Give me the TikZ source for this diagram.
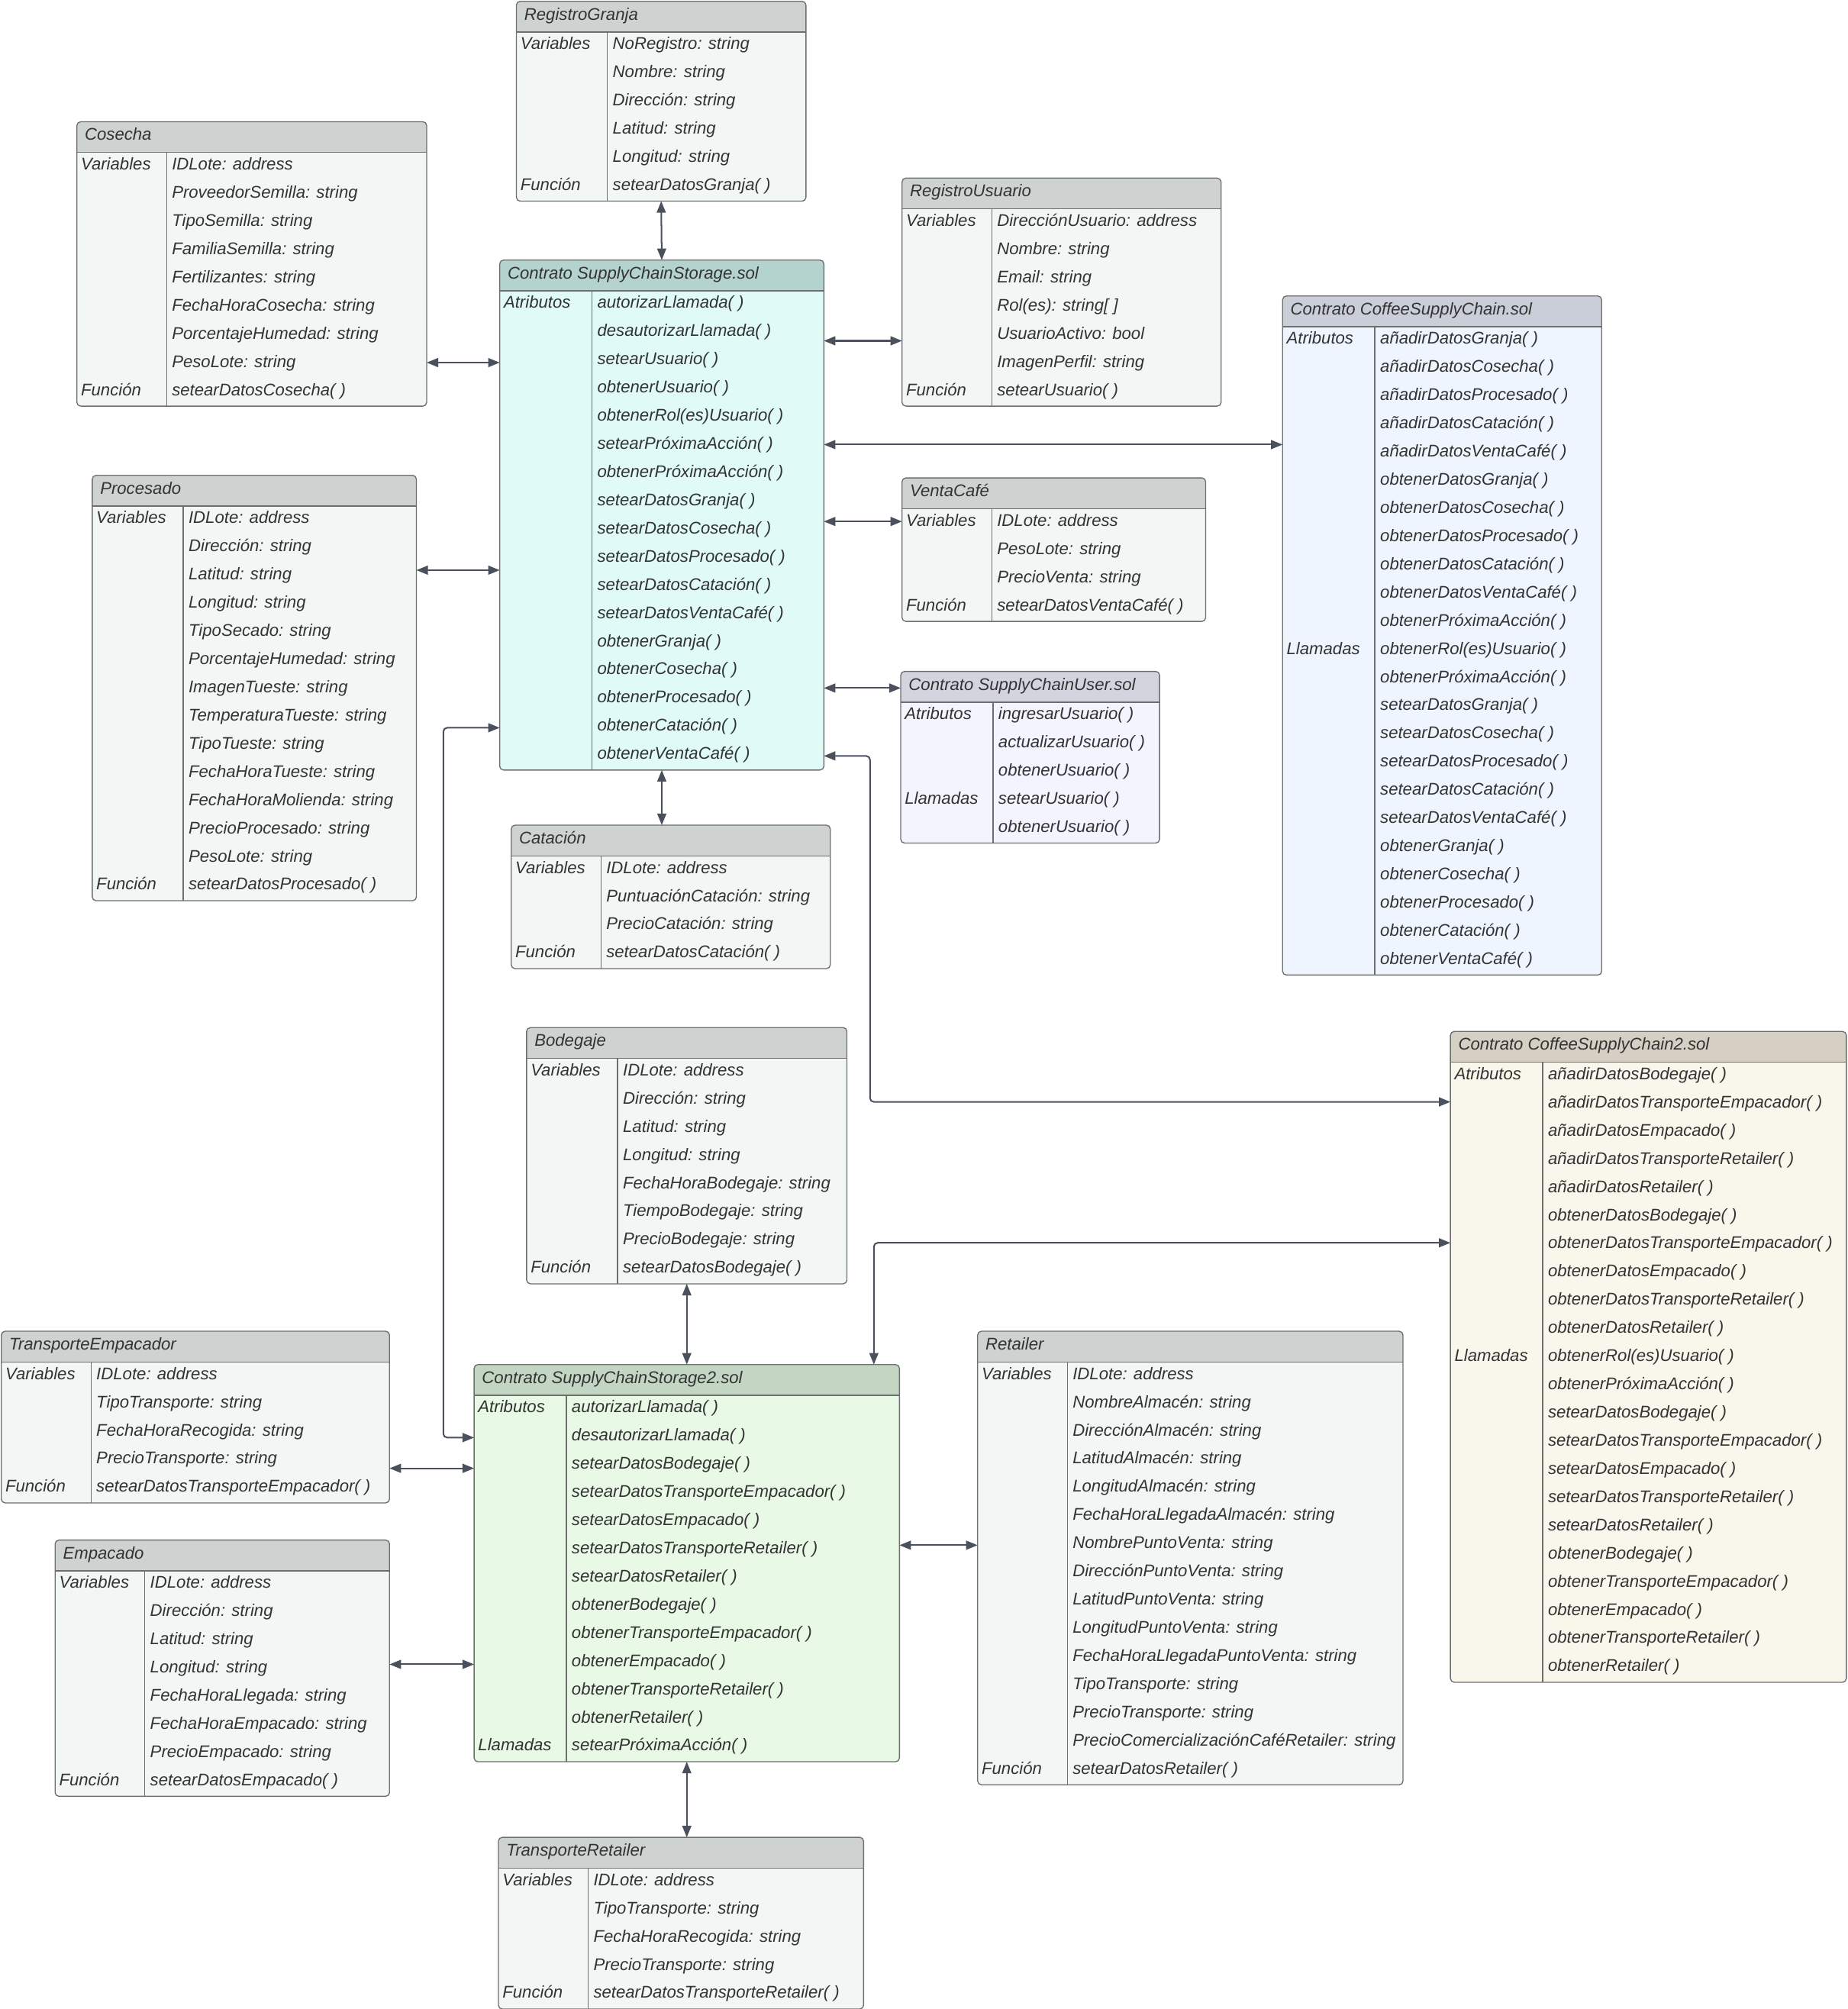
\documentclass[tikz,border=0pt]{standalone}
\usepackage{fontspec}
\setmainfont{Liberation Sans}
\usepackage{xcolor}
\usetikzlibrary{arrows.meta,calc}
\definecolor{inkgray}{HTML}{333333}
\definecolor{framegray}{HTML}{6E6E6E}
\definecolor{linkgray}{HTML}{4A505C}
\definecolor{headplain}{HTML}{CED3D1}
\definecolor{bodyplain}{HTML}{F2F7F6}
\definecolor{headstore}{HTML}{B5D3CE}
\definecolor{bodystore}{HTML}{E0FBF7}
\definecolor{headchain}{HTML}{C9CED8}
\definecolor{bodychain}{HTML}{EEF5FE}
\definecolor{headuser}{HTML}{D4D4DF}
\definecolor{bodyuser}{HTML}{F4F4FE}
\definecolor{headchaintwo}{HTML}{D5D0C3}
\definecolor{bodychaintwo}{HTML}{F9F6EC}
\definecolor{headstoretwo}{HTML}{C3D6C3}
\definecolor{bodystoretwo}{HTML}{E8F9E6}

% #1 name, #2 corner, #3 width, #4 column, #5 rows, #6 head, #7 body, #8 title, #9 rows text
\newcommand{\classbox}[9]{%
  \node[classframe, fill=#7, minimum width=#3pt, minimum height=24pt+22pt*#5] (#1) at (#2) {};
  \fill[#6, rounded corners=3pt] (#1.north west) rectangle ($(#1.north east)+(0,24)$);
  \fill[#6] ($(#1.north west)+(0,12)$) rectangle ($(#1.north east)+(0,24)$);
  \draw[frameline, rounded corners=3pt] (#1.north west) rectangle (#1.south east);
  \draw[frameline] ($(#1.north west)+(0,24)$) -- ($(#1.north east)+(0,24)$);
  \draw[frameline] ($(#1.north west)+(#4,24)$) -- ($(#1.south west)+(#4,0)$);
  \node[celltext] (#1-title) at ($(#1.north west)+(6,14.6)$) {#8};
  \foreach \txt [count=\i] in {#9}
    \node[celltext] (#1-\i) at ($(#1.north west)+(#4+4,15.6+22*\i)$) {\txt};
}
\newcommand{\classlabel}[3]{%
  \node[celltext] at ($(#1.north west)+(3,15.6+22*#2)$) {#3};
}

\begin{document}
\begin{tikzpicture}[
    x=1pt, y=-1pt,
    classframe/.style={
      rectangle,
      anchor=north west,
      rounded corners=3pt,
      inner sep=0pt,
      outer sep=0pt
    },
    frameline/.style={draw=framegray, line width=0.8pt},
    celltext/.style={
      anchor=base west,
      inner sep=0pt,
      text=inkgray,
      font=\fontsize{13.2}{15}\selectfont\itshape
    },
    link/.style={
      {Triangle[length=9pt, width=7pt]}-{Triangle[length=9pt, width=7pt]},
      draw=linkgray, line width=1.2pt, rounded corners=3pt
    }
  ]
  \useasboundingbox (0,0) rectangle (1442,1568);

  \classbox{rg}{403,1}{226}{71}{6}{headplain}{bodyplain}{RegistroGranja}
    {{NoRegistro: string}, {Nombre: string}, {Dirección: string}, {Latitud: string},
     {Longitud: string}, {setearDatosGranja( )}}
  \classlabel{rg}{1}{Variables}
  \classlabel{rg}{6}{Función}

  \classbox{cos}{60,95}{273}{70}{9}{headplain}{bodyplain}{Cosecha}
    {{IDLote: address}, {ProveedorSemilla: string}, {TipoSemilla: string},
     {FamiliaSemilla: string}, {Fertilizantes: string}, {FechaHoraCosecha: string},
     {PorcentajeHumedad: string}, {PesoLote: string}, {setearDatosCosecha( )}}
  \classlabel{cos}{1}{Variables}
  \classlabel{cos}{9}{Función}

  \classbox{scs}{390,203}{253}{72}{17}{headstore}{bodystore}{Contrato SupplyChainStorage.sol}
    {{autorizarLlamada( )}, {desautorizarLlamada( )}, {setearUsuario( )}, {obtenerUsuario( )},
     {obtenerRol(es)Usuario( )}, {setearPróximaAcción( )}, {obtenerPróximaAcción( )},
     {setearDatosGranja( )}, {setearDatosCosecha( )}, {setearDatosProcesado( )},
     {setearDatosCatación( )}, {setearDatosVentaCafé( )}, {obtenerGranja( )},
     {obtenerCosecha( )}, {obtenerProcesado( )}, {obtenerCatación( )}, {obtenerVentaCafé( )}}
  \classlabel{scs}{1}{Atributos}

  \classbox{ru}{704,139}{249}{70}{7}{headplain}{bodyplain}{RegistroUsuario}
    {{DirecciónUsuario: address}, {Nombre: string}, {Email: string}, {Rol(es): string[ ]},
     {UsuarioActivo: bool}, {ImagenPerfil: string}, {setearUsuario( )}}
  \classlabel{ru}{1}{Variables}
  \classlabel{ru}{7}{Función}

  \classbox{csc}{1001,231}{249}{72}{23}{headchain}{bodychain}{Contrato CoffeeSupplyChain.sol}
    {{añadirDatosGranja( )}, {añadirDatosCosecha( )}, {añadirDatosProcesado( )},
     {añadirDatosCatación( )}, {añadirDatosVentaCafé( )}, {obtenerDatosGranja( )},
     {obtenerDatosCosecha( )}, {obtenerDatosProcesado( )}, {obtenerDatosCatación( )},
     {obtenerDatosVentaCafé( )}, {obtenerPróximaAcción( )}, {obtenerRol(es)Usuario( )},
     {obtenerPróximaAcción( )}, {setearDatosGranja( )}, {setearDatosCosecha( )},
     {setearDatosProcesado( )}, {setearDatosCatación( )}, {setearDatosVentaCafé( )},
     {obtenerGranja( )}, {obtenerCosecha( )}, {obtenerProcesado( )}, {obtenerCatación( )},
     {obtenerVentaCafé( )}}
  \classlabel{csc}{1}{Atributos}
  \classlabel{csc}{12}{Llamadas}

  \classbox{pro}{72,371}{253}{71}{14}{headplain}{bodyplain}{Procesado}
    {{IDLote: address}, {Dirección: string}, {Latitud: string}, {Longitud: string},
     {TipoSecado: string}, {PorcentajeHumedad: string}, {ImagenTueste: string},
     {TemperaturaTueste: string}, {TipoTueste: string}, {FechaHoraTueste: string},
     {FechaHoraMolienda: string}, {PrecioProcesado: string}, {PesoLote: string},
     {setearDatosProcesado( )}}
  \classlabel{pro}{1}{Variables}
  \classlabel{pro}{14}{Función}

  \classbox{vc}{704,373}{237}{70}{4}{headplain}{bodyplain}{VentaCafé}
    {{IDLote: address}, {PesoLote: string}, {PrecioVenta: string}, {setearDatosVentaCafé( )}}
  \classlabel{vc}{1}{Variables}
  \classlabel{vc}{4}{Función}

  \classbox{scu}{703,524}{202}{72}{5}{headuser}{bodyuser}{Contrato SupplyChainUser.sol}
    {{ingresarUsuario( )}, {actualizarUsuario( )}, {obtenerUsuario( )}, {setearUsuario( )},
     {obtenerUsuario( )}}
  \classlabel{scu}{1}{Atributos}
  \classlabel{scu}{4}{Llamadas}

  \classbox{cat}{399,644}{249}{70}{4}{headplain}{bodyplain}{Catación}
    {{IDLote: address}, {PuntuaciónCatación: string}, {PrecioCatación: string},
     {setearDatosCatación( )}}
  \classlabel{cat}{1}{Variables}
  \classlabel{cat}{4}{Función}

  \classbox{bod}{411,802}{250}{71}{8}{headplain}{bodyplain}{Bodegaje}
    {{IDLote: address}, {Dirección: string}, {Latitud: string}, {Longitud: string},
     {FechaHoraBodegaje: string}, {TiempoBodegaje: string}, {PrecioBodegaje: string},
     {setearDatosBodegaje( )}}
  \classlabel{bod}{1}{Variables}
  \classlabel{bod}{8}{Función}

  \classbox{csc2}{1132,805}{309}{72}{22}{headchaintwo}{bodychaintwo}{Contrato CoffeeSupplyChain2.sol}
    {{añadirDatosBodegaje( )}, {añadirDatosTransporteEmpacador( )}, {añadirDatosEmpacado( )},
     {añadirDatosTransporteRetailer( )}, {añadirDatosRetailer( )}, {obtenerDatosBodegaje( )},
     {obtenerDatosTransporteEmpacador( )}, {obtenerDatosEmpacado( )},
     {obtenerDatosTransporteRetailer( )}, {obtenerDatosRetailer( )}, {obtenerRol(es)Usuario( )},
     {obtenerPróximaAcción( )}, {setearDatosBodegaje( )}, {setearDatosTransporteEmpacador( )},
     {setearDatosEmpacado( )}, {setearDatosTransporteRetailer( )}, {setearDatosRetailer( )},
     {obtenerBodegaje( )}, {obtenerTransporteEmpacador( )}, {obtenerEmpacado( )},
     {obtenerTransporteRetailer( )}, {obtenerRetailer( )}}
  \classlabel{csc2}{1}{Atributos}
  \classlabel{csc2}{11}{Llamadas}

  \classbox{te}{1,1039}{303}{70}{5}{headplain}{bodyplain}{TransporteEmpacador}
    {{IDLote: address}, {TipoTransporte: string}, {FechaHoraRecogida: string},
     {PrecioTransporte: string}, {setearDatosTransporteEmpacador( )}}
  \classlabel{te}{1}{Variables}
  \classlabel{te}{5}{Función}

  \classbox{scs2}{370,1065}{332}{72}{13}{headstoretwo}{bodystoretwo}{Contrato SupplyChainStorage2.sol}
    {{autorizarLlamada( )}, {desautorizarLlamada( )}, {setearDatosBodegaje( )},
     {setearDatosTransporteEmpacador( )}, {setearDatosEmpacado( )},
     {setearDatosTransporteRetailer( )}, {setearDatosRetailer( )}, {obtenerBodegaje( )},
     {obtenerTransporteEmpacador( )}, {obtenerEmpacado( )}, {obtenerTransporteRetailer( )},
     {obtenerRetailer( )}, {setearPróximaAcción( )}}
  \classlabel{scs2}{1}{Atributos}
  \classlabel{scs2}{13}{Llamadas}

  \classbox{ret}{763,1039}{332}{70}{15}{headplain}{bodyplain}{Retailer}
    {{IDLote: address}, {NombreAlmacén: string}, {DirecciónAlmacén: string},
     {LatitudAlmacén: string}, {LongitudAlmacén: string}, {FechaHoraLlegadaAlmacén: string},
     {NombrePuntoVenta: string}, {DirecciónPuntoVenta: string}, {LatitudPuntoVenta: string},
     {LongitudPuntoVenta: string}, {FechaHoraLlegadaPuntoVenta: string},
     {TipoTransporte: string}, {PrecioTransporte: string},
     {PrecioComercializaciónCaféRetailer: string}, {setearDatosRetailer( )}}
  \classlabel{ret}{1}{Variables}
  \classlabel{ret}{15}{Función}

  \classbox{emp}{43,1202}{261}{70}{8}{headplain}{bodyplain}{Empacado}
    {{IDLote: address}, {Dirección: string}, {Latitud: string}, {Longitud: string},
     {FechaHoraLlegada: string}, {FechaHoraEmpacado: string}, {PrecioEmpacado: string},
     {setearDatosEmpacado( )}}
  \classlabel{emp}{1}{Variables}
  \classlabel{emp}{8}{Función}

  \classbox{tr}{389,1434}{285}{70}{5}{headplain}{bodyplain}{TransporteRetailer}
    {{IDLote: address}, {TipoTransporte: string}, {FechaHoraRecogida: string},
     {PrecioTransporte: string}, {setearDatosTransporteRetailer( )}}
  \classlabel{tr}{1}{Variables}
  \classlabel{tr}{5}{Función}

  % connectors
  \draw[link] (rg.south) -- (scs.north);
  \draw[link] (cos.east |- 0,283) -- (scs.west |- 0,283);
  \draw[link] (scs.east |- 0,266) -- (ru.west |- 0,266);
  \draw[link] (scs.east |- 0,347) -- (csc.west |- 0,347);
  \draw[link] (pro.east |- 0,445) -- (scs.west |- 0,445);
  \draw[link] (scs.east |- 0,407) -- (vc.west |- 0,407);
  \draw[link] (scs.east |- 0,537) -- (scu.west |- 0,537);
  \draw[link] (scs.south) -- (scs.south |- cat.north);
  \draw[link] (scs.west |- 0,568) -| (346,1122) -- (scs2.west |- 0,1122);
  \draw[link] (scs.east |- 0,590) -| (679,860) -- (csc2.west |- 0,860);
  \draw[link] (csc2.west |- 0,970) -| (scs2.north -| 682,0);
  \draw[link] (bod.south) -- (scs2.north);
  \draw[link] (te.east |- 0,1146) -- (scs2.west |- 0,1146);
  \draw[link] (scs2.east |- 0,1206) -- (ret.west |- 0,1206);
  \draw[link] (emp.east |- 0,1299) -- (scs2.west |- 0,1299);
  \draw[link] (scs2.south) -- (scs2.south |- tr.north);
\end{tikzpicture}
\end{document}
